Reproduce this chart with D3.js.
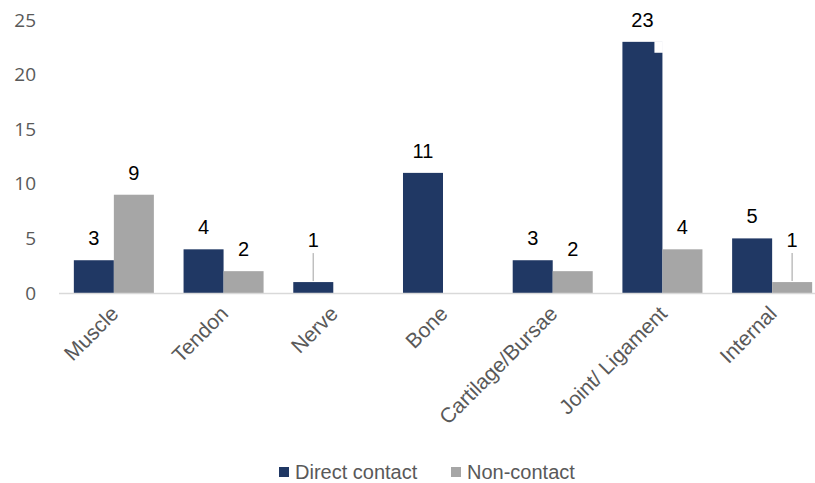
<!DOCTYPE html>
<html>
<head>
<meta charset="utf-8">
<script src="https://cdn.jsdelivr.net/npm/d3@7/dist/d3.min.js"></script>
<style>
  html, body { margin: 0; padding: 0; background: #fff; }
  svg { display: block; font-family: "Liberation Sans", Arial, sans-serif; }
</style>
</head>
<body>
<svg id="chart" width="815" height="483"></svg>
<script>
// Injury categories and counts per mechanism
const categories = ["Muscle", "Tendon", "Nerve", "Bone", "Cartilage/Bursae", "Joint/ Ligament", "Internal"];
const seriesNames = ["Direct contact", "Non-contact"];
const directContact = [3, 4, 1, 11, 3, 23, 5];
const nonContact = [9, 2, 0, 0, 2, 4, 1];
const yTicks = [0, 5, 10, 15, 20, 25];
const colors = ["#203864", "#a6a6a6"];

const svg = d3.select("#chart");

const x0 = d3.scaleBand().domain(categories).range([59, 827]).padding(0);
const x1 = d3.scaleBand().domain(seriesNames).range([0, x0.bandwidth()]).paddingInner(0).paddingOuter(0.371);
const y = d3.scaleLinear().domain([0, 25]).range([293, 20]);

// Y axis tick labels (no axis line)
const yAxis = svg.append("g").attr("transform", "translate(36,0)")
  .call(d3.axisLeft(y).tickValues(yTicks).tickSize(0).tickPadding(0));
yAxis.select(".domain").remove();
yAxis.selectAll("text")
  .attr("fill", "#595959")
  .style("font-size", "19px")
  .style("font-family", "'Open Sans', 'Liberation Sans', sans-serif");

const rows = categories.map((c, i) => ({
  category: c,
  values: [
    { series: seriesNames[0], value: directContact[i] },
    { series: seriesNames[1], value: nonContact[i] }
  ]
}));

// Bars
const groups = svg.append("g").selectAll("g").data(rows).join("g")
  .attr("transform", d => `translate(${x0(d.category)},0)`);

groups.selectAll("rect").data(d => d.values).join("rect")
  .attr("x", d => x1(d.series))
  .attr("y", d => y(d.value))
  .attr("width", x1.bandwidth())
  .attr("height", d => y(0) - y(d.value))
  .attr("fill", (d, i) => colors[i]);

// Step in the top-right corner of the Joint/ Ligament direct-contact bar
{
  const jx = x0("Joint/ Ligament") + x1("Direct contact");
  const bw = x1.bandwidth();
  svg.append("rect")
    .attr("x", jx + bw * 0.8)
    .attr("y", y(23) - 0.5)
    .attr("width", bw * 0.2 + 0.5)
    .attr("height", y(22) - y(23) + 0.5)
    .attr("fill", "#fff");
}

// Baseline
svg.append("line")
  .attr("x1", 59).attr("x2", 827)
  .attr("y1", y(0) + 0.5).attr("y2", y(0) + 0.5)
  .attr("stroke", "#d9d9d9").attr("stroke-width", 1.5);

// Value labels; small values get lifted and joined with a leader line
const labelLift = 30; // extra lift for labels of small bars
const labels = [];
rows.forEach(r => r.values.forEach(v => {
  if (v.value <= 0) return;
  const cx = x0(r.category) + x1(v.series) + x1.bandwidth() / 2;
  const lifted = v.value === 1;
  labels.push({ cx, value: v.value, lifted });
}));

svg.append("g").selectAll("line").data(labels.filter(d => d.lifted)).join("line")
  .attr("x1", d => d.cx).attr("x2", d => d.cx)
  .attr("y1", d => y(d.value) - labelLift + 1)
  .attr("y2", d => y(d.value) - 1)
  .attr("stroke", "#bfbfbf").attr("stroke-width", 1.5);

svg.append("g").selectAll("text").data(labels).join("text")
  .attr("x", d => d.cx)
  .attr("y", d => y(d.value) - 15 - (d.lifted ? labelLift - 10 : 0))
  .attr("text-anchor", "middle")
  .attr("fill", "#000")
  .style("font-size", "20px")
  .text(d => d.value);

// Category labels, rotated
svg.append("g").selectAll("text").data(categories).join("text")
  .attr("transform", d => `translate(${x0(d) + x0.bandwidth() / 2 + 6},${315}) rotate(-45)`)
  .attr("text-anchor", "end")
  .attr("fill", "#595959")
  .style("font-size", "21px")
  .text(d => d);

// Legend
const legendItems = [
  { name: seriesNames[0], color: colors[0], x: 279 },
  { name: seriesNames[1], color: colors[1], x: 451 }
];
const lg = svg.append("g").selectAll("g").data(legendItems).join("g")
  .attr("transform", d => `translate(${d.x},467)`);
lg.append("rect").attr("width", 10).attr("height", 10).attr("fill", d => d.color);
lg.append("text")
  .attr("x", 16).attr("y", 12)
  .attr("fill", "#595959")
  .style("font-size", "20px")
  .text(d => d.name);
</script>
</body>
</html>
